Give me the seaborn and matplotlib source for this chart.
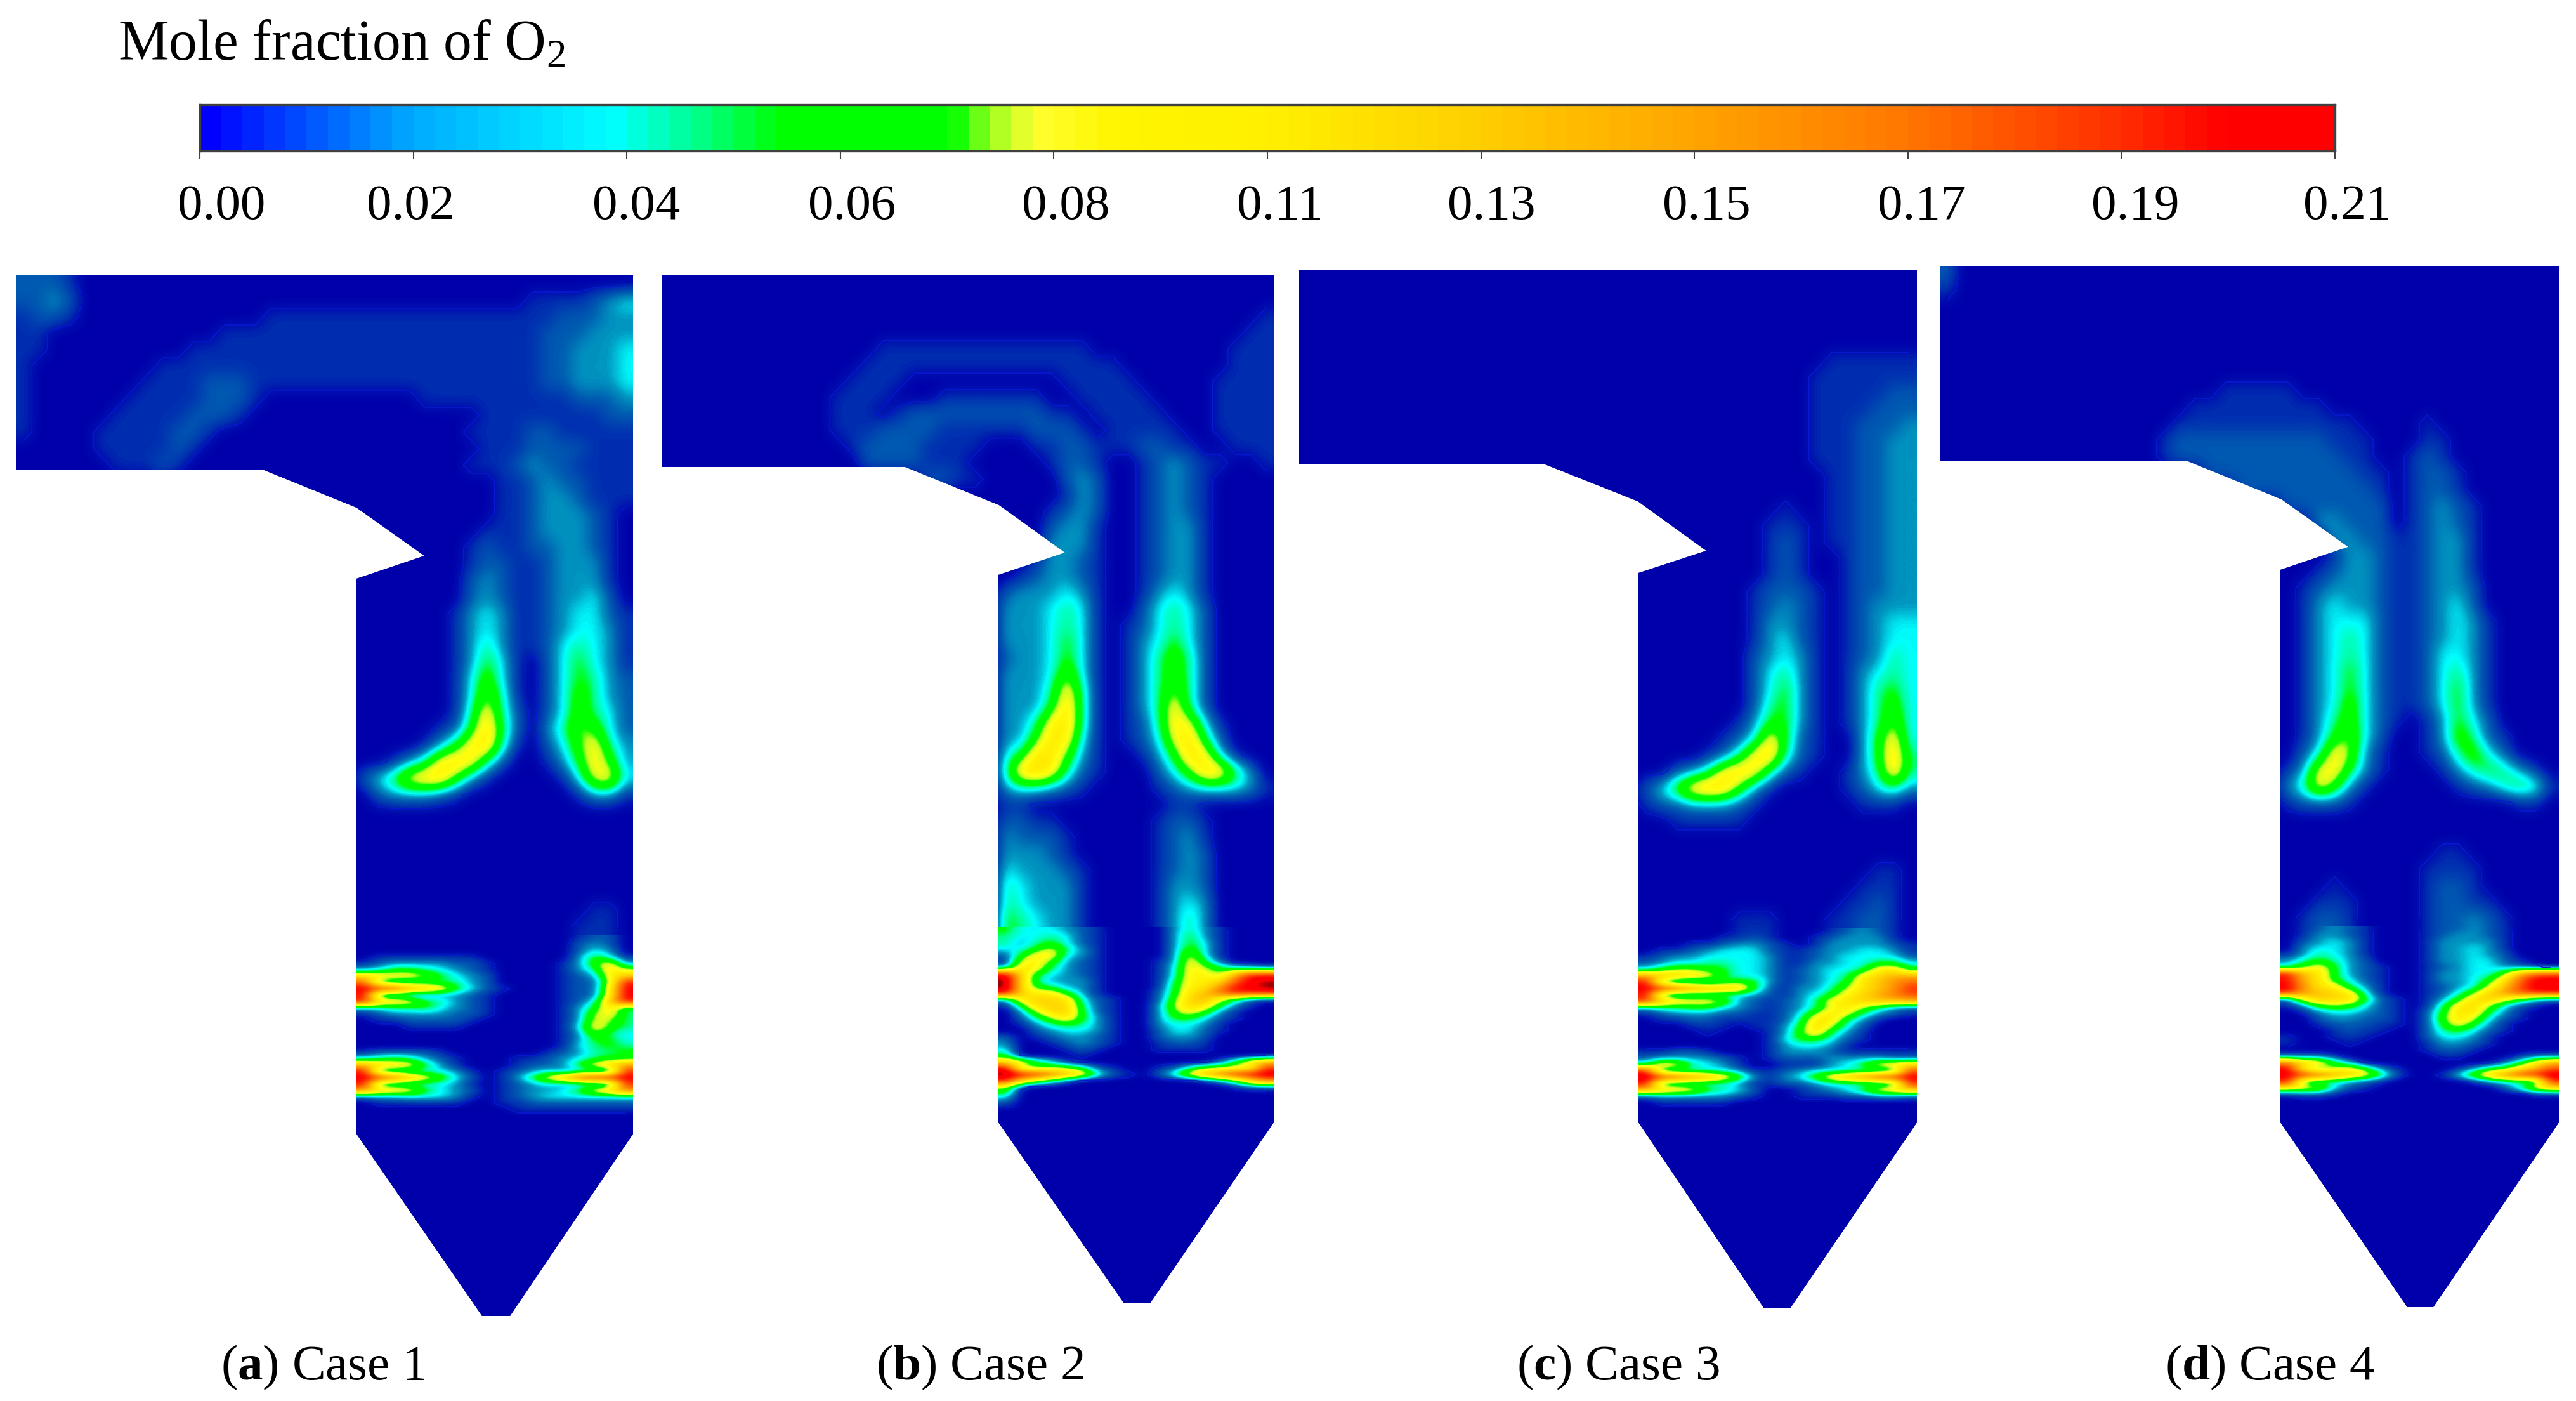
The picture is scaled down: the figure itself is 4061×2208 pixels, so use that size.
import numpy as np
import matplotlib
matplotlib.use("Agg")
import matplotlib.pyplot as plt
import seaborn as sns
from matplotlib.colors import LinearSegmentedColormap
from matplotlib.patches import Polygon
from matplotlib.transforms import Affine2D

# O2 mole fraction, one char per cell in hundredths (base 36: a=0.10, l=0.21)
# rows are right aligned against the right wall, missing cells on the left are 0
case1_upper = [
    "2221000000000000000000000000000000000000",
    "2232000000000000000000000000000001111234",
    "1221000000000000111111111111111111122233",
    "1100000000000111111111111111111111222333",
    "1100000000011111111111111111111111223334",
    "1000000001111111111111111111111111223334",
    "1000000011112221111111111111111111223334",
    "1000000111112221000000000011111111112223",
    "1000001111122210000000000000001111111122",
    "1000011111221000000000000000011112211111",
    "0000011111210000000000000000001112222111",
    "0000001112100000000000000000011123221111",
    "112322111", "112332111", "112333210", "1112333210", "12112233210", "12211233310",
    "23211233310", "23211233420", "134311234421", "134311234431", "135311245431",
    "136410246431", "147410246532", "148510247532", "15a520247542", "126b620358742",
    "136ab510247a53", "135aba5200136a73", "246abb7310000149a4", "23332100000001331",
    "", "", "", "", "", "", "110", "1110",
]
case1_lower = [
    "1220", "2320", "2430", "011111110000003641", "1233332210000137a3", "3466543210000135b8",
    "cbaa864320000123ad", "h5445553200001228k", "lkjfdb6421000122al", "k332233210000122al",
    "kcba653210000124dk", "3455643210000136b5", "1233332210000138a5", "011222210000013985",
    "000111100000014a75", "13854", "13664", "14565", "122221000000123556",
    "456532100011234566", "ecba63100012236acf", "k4444431012343333j", "lkhda7420136adjkll", "k4444431012343333j",
    "fcba64320123346acg", "233444310123444444", "011111100112222222", "11111111",
]
case2_upper = [
    "", "", "1", "11", "11111111111111000000000111", "111111111111111110000000111",
    "1111000000000011111000001111", "11110001111111001111100001111",
    "11101222222222110111110001111", "11122221111112221011111001111",
    "1222211110001122111221100111", "222211100000122100123211001",
    "22110000023200123210000", "13200123210000", "123200123210000", "233100123310000",
    "333100123310000", "1332100123310000", "12332100123310000", "233343100134310000",
    "333454100245420000", "333454101245420000", "333464101346420000", "233464101357520000",
    "333484101357520000", "3335a5101358520000", "3336b510135a520000", "335ab510125a941000",
    "337ba4101249b62000", "46bb73100136ba4100", "5bca521000247bb630", "344321000012344431",
    "110000000001100000", "221100000012210000", "322210000012310000", "333210000012320000",
    "433321000012320000", "543331000013320000", "543331000013430000", "654331000013530000",
]
case2_lower = [
    "644432100003531000", "544542100003631000", "535642100003641000", "446953100003741000",
    "26aa43100003941000", "19a732100013a62000", "3ba532100014a86432", "lc6432100014aa7ejj",
    "nc5333100015aabhlm", "nc6533100016abfkln", "lcaa63100026bdhkkk", "3bccb4210027ce9521",
    "16ccc5210038cb6310", "038cc6210037a73100", "0258b6310036642100", "013565310034431000",
    "002344310024421000", "201233210023320000", "300123210012210000", "400012100011110000",
    "600001000000000000", "ca64100000000026be", "l7788621001258899j", "nlkheb521025aehklm",
    "kc85200000000136cg", "810000000000000122", "600000000000000000", "300000000000000000",
    "100000000000000000",
]
case3_upper = [
    "", "", "", "", "", "111111", "1111111", "1111122", "1111222", "1112223", "1112233", "1112233",
    "112233", "112233", "100112233", "1110112233", "1210112233", "1210012233", "1210012233",
    "12221012233", "12321012333", "13321012344", "13421012344", "23431012354", "24531013454",
    "24631013564", "25631013574", "136631013584", "124a6210036a4", "125ab5210036b5",
    "235aba52100135b5", "247bcb731000012453", "122333210000001110", "1111100000000000",
    "", "", "110", "1110", "11210", "111000112210",
]
case3_lower = [
    "111000123210", "1121001233310", "112332101333321", "11234442112334431",
    "123344443112344442", "234455443113344664", "468866443123445ab6", "fdcba644312345acee",
    "k6333576312346bdfh", "lkigedc6213358bdfj", "k533444321346acegi", "jdbaa8321235abcdde",
    "3556643212359b8532", "123332211248b95321", "01122111125bb53100", "00011101136c842000",
    "00001000137b531000", "1466421000", "1344310000", "112210001333211111",
    "233332101222333322", "5ba543100111346abc", "k4444431123444444i", "mkigeb731347begjkl",
    "k4444431122344444j", "ecba65420012346abd", "233333210011122332", "011111000000000000",
]
case4_upper = [
    "2000000000000000000000000000000000000000", "1000000000000000000000000000000000000000",
    "", "", "", "", "", "1111100000000000000000", "111111111000000000000000",
    "1111111111110000100000000", "12222222222111000110000000", "12222222222211001210000000",
    "22222222221101221000000", "222222222101221000000", "222222201232100000",
    "3322201232100000", "332211233100000", "133211233100000", "1233211233100000",
    "12333211233200000", "13433211234200000", "13444211234310000", "13454211234310000",
    "13454211244310000", "13464211245310000", "13464211246310000", "13474211246310000",
    "13574210136420000", "13684200137521000", "24a83100125742000", "139a63100013565310",
    "35a731000001235651", "122210000000000110", "", "", "11000000", "111100000",
    "100000122100000", "1110000122110000", "012210000122321000",
]
case4_lower = [
    "012321000122321000", "013321000123321000", "023431000133331000", "034431000133431000",
    "135431000133432000", "356532000133442100", "47a632100123443210", "kdb632100133447ehi",
    "keb64210013346bhll", "lfba5310012348dilm", "kfdca41001247cfikk", "2adcc6210136bda743",
    "13787421015ac84210", "01344321026bb63100", "00233221027b942100", "00122211026a631000",
    "000121100256421000", "100111000244310000", "100010000133210000", "122100000",
    "222100000011000122", "gcb6300000000025ae", "l968a7310001367bei", "lkifca6200148cgjkm",
    "k5443210000013444j", "ba94210000000025ac", "122100000000000011",
]

case_titles = ["a", "b", "c", "d"]
case_names = ["Case 1", "Case 2", "Case 3", "Case 4"]
bar_tick_labels = ["0.00", "0.02", "0.04", "0.06", "0.08", "0.11", "0.13", "0.15", "0.17", "0.19", "0.21"]

# colour ramps
bar_stops = [0, 0.02, 0.04, 0.048, 0.0567, 0.0737, 0.0777, 0.0818, 0.09, 0.105, 0.125, 0.147, 0.168, 0.189, 0.2, 0.21]
bar_colors = ["#0000ff", "#00aaff", "#00ffff", "#00ff90", "#00ff00", "#00ff00", "#a0ff20", "#ffff30",
              "#fff500", "#fff000", "#ffd000", "#ffa500", "#ff7800", "#ff3000", "#ff0000", "#ff0000"]
field_stops = [0, 0.005, 0.01, 0.02, 0.03, 0.04, 0.05, 0.057, 0.073, 0.08, 0.09, 0.105, 0.125, 0.147,
               0.168, 0.189, 0.205, 0.216, 0.225, 0.235, 0.24]
field_colors = ["#0000aa", "#0010b0", "#0030b0", "#005ab0", "#0095c0", "#00ffff", "#00ff90", "#00ff00",
                "#00ff00", "#c0ff20", "#ffff10", "#ffee00", "#ffd000", "#ffa000", "#ff7000", "#ff3000",
                "#ff0000", "#ff0000", "#900000", "#000000", "#000000"]
contour_levels = [0.005]
contour_colors = ["#0818d0"]

# layout in pixels of the 4062x2208 picture
W, H = 4062, 2208
UPPER_ROWS, LOWER_ROWS, UPPER_COLS, LOWER_COLS = 40, 60, 40, 18
SPLIT = 0.634
outlines = [
    [(26, 434), (998, 434), (998, 1787), (804, 2074), (760, 2074), (562, 1787), (562, 912), (669, 876), (562, 800), (414, 740), (26, 740)],
    [(1043, 434), (2008, 434), (2008, 1769), (1813, 2054), (1772, 2054), (1574, 1769), (1574, 906), (1679, 871), (1575, 796), (1427, 736), (1043, 736)],
    [(2048, 426), (3022, 426), (3022, 1769), (2822, 2062), (2781, 2062), (2583, 1769), (2583, 903), (2690, 868), (2582, 790), (2436, 732), (2048, 732)],
    [(3058, 420), (4034, 420), (4034, 1769), (3836, 2060), (3795, 2060), (3595, 1769), (3595, 898), (3702, 862), (3597, 787), (3447, 726), (3058, 726)],
]
caption_x = [509, 1545, 2551, 3578]
bar_box = (315, 165, 3681, 238)
bar_label_x = [349, 647, 1003, 1343, 1680, 2018, 2351, 2690, 3029, 3366, 3700]


def to_grid(rows, ncols, nrows):
    grid = np.zeros((nrows, ncols))
    for i, row in enumerate(rows):
        for j, ch in enumerate(reversed(row)):
            grid[i, ncols - 1 - j] = int(ch, 36) / 100
    return grid


def ramp(stops, colors, top, n=256):
    return LinearSegmentedColormap.from_list("ramp", [(s / top, c) for s, c in zip(stops, colors)], N=n)


def px_axes(left, top, right, bottom):
    return fig.add_axes([left / W, 1 - bottom / H, (right - left) / W, (bottom - top) / H])


def draw_block(rows, ncols, nrows, box, outline):
    ax = px_axes(*box)
    grid = to_grid(rows, ncols, nrows)
    sns.heatmap(grid, ax=ax, cmap=field_cmap, vmin=0, vmax=0.24, cbar=False,
                xticklabels=False, yticklabels=False)
    mesh = ax.collections[0]
    # agg caches the clip mask per path, so every artist gets its own polygon
    mesh.set_clip_path(Polygon(outline, closed=True, transform=px))
    # same cells, drawn smooth the way the solver's contour export looks
    im = ax.imshow(grid, cmap=mesh.cmap, norm=mesh.norm, extent=(0, ncols, nrows, 0), aspect="auto",
                   interpolation="bicubic", interpolation_stage="data", zorder=3)
    im.set_clip_path(Polygon(outline, closed=True, transform=px))
    lines = ax.contour(np.arange(ncols) + 0.5, np.arange(nrows) + 0.5, grid, levels=contour_levels,
                       colors=contour_colors, linewidths=0.4, zorder=4)
    lines.set_clip_path(Polygon(outline, closed=True, transform=px))
    ax.set_xlim(0, ncols)
    ax.set_ylim(nrows, 0)
    ax.axis("off")


sns.set_theme(style="white")
plt.rcParams["font.family"] = ["Liberation Serif", "DejaVu Serif"]
plt.rcParams["mathtext.fontset"] = "custom"
plt.rcParams["mathtext.rm"] = "Liberation Serif"
plt.rcParams["mathtext.bf"] = "Liberation Serif:bold"

fig = plt.figure(figsize=(W / 300, H / 300), dpi=300, facecolor="white")
px = Affine2D().scale(1 / W, -1 / H).translate(0, 1) + fig.transFigure
field_cmap = ramp(field_stops, field_colors, 0.24)
bar_cmap = ramp(bar_stops, bar_colors, 0.21, n=100)

uppers = [case1_upper, case2_upper, case3_upper, case4_upper]
lowers = [case1_lower, case2_lower, case3_lower, case4_lower]
for k in range(4):
    outline = outlines[k]
    left, top = outline[0]
    right = outline[1][0]
    wall = outline[5][0]
    bottom = outline[3][1]
    split = top + SPLIT * (bottom - top)
    draw_block(uppers[k], UPPER_COLS, UPPER_ROWS, (left, top, right, split), outline)
    draw_block(lowers[k], LOWER_COLS, LOWER_ROWS, (wall, split, right, bottom), outline)
    fig.text(caption_x[k] / W, 1 - 2174 / H, f"($\\mathbf{{{case_titles[k]}}}$) {case_names[k]}",
             ha="center", va="baseline", fontsize=19, color="black")

# colour bar
bar_ax = px_axes(*bar_box)
bar_levels = np.linspace(0, 0.21, 100).reshape(1, -1)
sns.heatmap(bar_levels, ax=bar_ax, cmap=bar_cmap, vmin=0, vmax=0.21, cbar=False, yticklabels=False)
bar_ax.set_xticks(np.linspace(0, 100, len(bar_tick_labels)))
bar_ax.set_xticklabels([])
bar_ax.tick_params(axis="x", length=3, width=0.5, color="#444444", bottom=True, pad=0)
for side in bar_ax.spines.values():
    side.set_visible(True)
    side.set_linewidth(0.8)
    side.set_color("#404040")
for x, label in zip(bar_label_x, bar_tick_labels):
    fig.text(x / W, 1 - 345 / H, label, ha="center", va="baseline", fontsize=19, color="black")

plt.rcParams["mathtext.default"] = "regular"
fig.text(186 / W, 1 - 94 / H, "Mole fraction of O$_2$", ha="left", va="baseline", fontsize=21.5, color="black")

fig.savefig("out.png", dpi=300, facecolor="white")
